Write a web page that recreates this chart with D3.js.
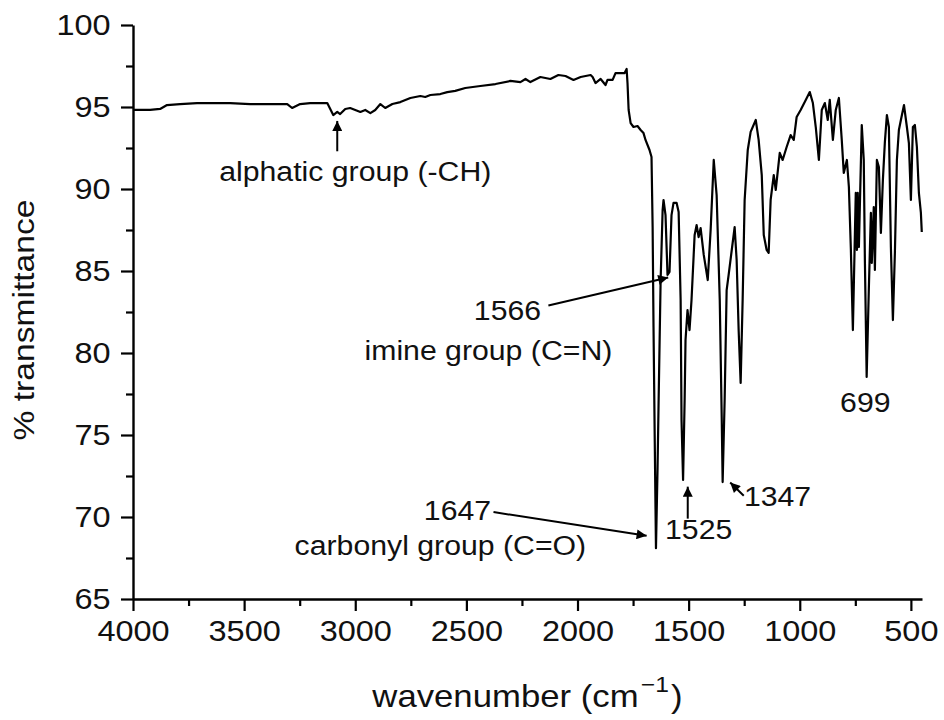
<!DOCTYPE html>
<html>
<head>
<meta charset="utf-8">
<script src="https://cdn.jsdelivr.net/npm/d3@7"></script>
<style>
  html, body { margin: 0; padding: 0; background: #fff; }
  svg { display: block; font-family: "Liberation Sans", Arial, sans-serif; }
</style>
</head>
<body>
<svg id="chart" width="944" height="720"></svg>
<script>
// FT-IR spectrum: wavenumber (cm-1) and % transmittance
const wavenumber = [
  4000, 3923, 3878, 3847, 3788, 3712, 3563, 3473, 3306, 3284, 3248, 3203, 3158, 3126,
  3099, 3081, 3068, 3045, 3023, 3000, 2977, 2955, 2932, 2910, 2887, 2865, 2833, 2797,
  2752, 2707, 2685, 2662, 2617, 2586, 2550, 2505, 2437, 2369, 2302, 2257, 2234, 2212,
  2167, 2122, 2086, 2054, 2018, 1986, 1941, 1932, 1919, 1896, 1874, 1865, 1842, 1829,
  1788, 1779, 1775, 1770, 1761, 1748, 1730, 1716, 1703, 1694, 1676, 1667, 1662, 1658,
  1653, 1647, 1640, 1635, 1626, 1617, 1613, 1604, 1595, 1586, 1577, 1568, 1554, 1545,
  1536, 1532, 1525, 1518, 1514, 1505, 1496, 1487, 1473, 1464, 1455, 1446, 1432, 1414,
  1401, 1387, 1374, 1360, 1351, 1347, 1338, 1329, 1320, 1306, 1293, 1284, 1275, 1266,
  1257, 1248, 1234, 1221, 1198, 1185, 1171, 1162, 1149, 1140, 1131, 1117, 1108, 1090,
  1077, 1059, 1041, 1027, 1014, 996, 973, 955, 941, 928, 914, 901, 887, 874,
  865, 851, 838, 824, 811, 802, 788, 779, 770, 761, 748, 743, 739, 734,
  721, 712, 707, 699, 689, 680, 676, 667, 662, 653, 644, 635, 626, 617,
  608, 599, 590, 581, 572, 563, 554, 545, 531, 518, 509, 500, 491, 482,
  473, 464, 455, 451
];
const transmittance = [
  94.82, 94.82, 94.88, 95.12, 95.18, 95.24, 95.24, 95.18, 95.18, 94.94, 95.18, 95.24, 95.24, 95.24,
  94.51, 94.70, 94.57, 94.88, 94.94, 94.82, 94.70, 94.82, 94.63, 94.82, 95.18, 94.94, 95.18, 95.30,
  95.55, 95.67, 95.61, 95.73, 95.79, 95.91, 95.98, 96.16, 96.28, 96.40, 96.59, 96.52, 96.71, 96.52,
  96.83, 96.71, 96.95, 96.89, 96.65, 96.83, 96.95, 96.83, 96.46, 96.71, 96.34, 96.65, 96.65, 97.07,
  97.07, 97.32, 96.46, 94.82, 94.02, 93.78, 93.84, 93.60, 93.41, 92.99, 92.38, 91.95, 87.68, 81.59,
  75.30, 68.10, 72.87, 77.13, 84.45, 88.72, 89.33, 88.41, 84.76, 84.94, 88.41, 89.15, 89.15, 88.60,
  83.23, 75.91, 72.26, 77.13, 80.79, 82.62, 81.40, 83.23, 87.20, 87.80, 87.07, 87.62, 85.98, 84.45,
  87.50, 91.77, 89.63, 83.23, 75.91, 72.13, 77.13, 83.84, 84.76, 86.28, 87.68, 85.67, 81.40, 78.17,
  83.23, 89.33, 92.38, 93.48, 94.21, 92.99, 90.85, 87.20, 86.28, 86.10, 89.33, 90.85, 89.94, 92.20,
  91.77, 92.56, 93.29, 92.99, 94.39, 94.82, 95.43, 95.91, 95.24, 93.78, 91.77, 94.82, 95.24, 94.21,
  95.43, 92.99, 94.82, 95.55, 92.99, 90.98, 91.77, 90.12, 86.28, 81.40, 89.76, 86.28, 89.76, 86.46,
  93.90, 91.77, 85.67, 78.54, 84.02, 88.54, 85.49, 88.90, 85.06, 91.77, 91.34, 87.32, 90.55, 92.87,
  94.51, 93.78, 86.46, 82.01, 86.10, 91.77, 93.60, 94.21, 95.12, 93.78, 92.80, 89.33, 93.78, 93.90,
  92.56, 89.76, 88.54, 87.38
];

const xTicks = [4000, 3500, 3000, 2500, 2000, 1500, 1000, 500];
const xMinorTicks = [3750, 3250, 2750, 2250, 1750, 1250, 750];
const yTicks = [65, 70, 75, 80, 85, 90, 95, 100];
const yMinorTicks = [67.5, 72.5, 77.5, 82.5, 87.5, 92.5, 97.5];

// band annotations: peak label, assignment line
const bandLabels = ["1647", "1525", "1347", "1566", "699"];
const groupLabels = ["alphatic group (-CH)", "imine group (C=N)", "carbonyl group (C=O)"];

const svg = d3.select("#chart");
const stretch = 1.12; // slightly wide lettering

const x = d3.scaleLinear().domain([4000, 450]).range([133, 922]);
const y = d3.scaleLinear().domain([65, 100]).range([599, 25]);

// arrowhead marker
svg.append("defs").append("marker")
  .attr("id", "head")
  .attr("viewBox", "0 0 10 10")
  .attr("refX", 10).attr("refY", 5)
  .attr("markerWidth", 6.5).attr("markerHeight", 5)
  .attr("markerUnits", "strokeWidth")
  .attr("orient", "auto")
  .append("path").attr("d", "M0,0 L10,5 L0,10 Z").attr("fill", "#000");

// axes
const xAxis = svg.append("g").attr("transform", `translate(0,${y(65)})`)
  .call(d3.axisBottom(x).tickValues(xTicks).tickSize(12).tickPadding(9).tickSizeOuter(0).tickFormat(d3.format("d")));
svg.append("g").attr("transform", `translate(0,${y(65)})`)
  .call(d3.axisBottom(x).tickValues(xMinorTicks).tickSize(7).tickSizeOuter(0).tickFormat(""))
  .select(".domain").remove();

const yAxis = svg.append("g").attr("transform", `translate(${x(4000)},0)`)
  .call(d3.axisLeft(y).tickValues(yTicks).tickSize(12).tickPadding(8).tickSizeOuter(0).tickFormat(d3.format("d")));
svg.append("g").attr("transform", `translate(${x(4000)},0)`)
  .call(d3.axisLeft(y).tickValues(yMinorTicks).tickSize(7).tickSizeOuter(0).tickFormat(""))
  .select(".domain").remove();

svg.selectAll(".domain").attr("stroke", "#000").attr("stroke-width", 2.4);
svg.selectAll(".tick line").attr("stroke", "#000").attr("stroke-width", 2.2);
[xAxis, yAxis].forEach(a => a.selectAll(".tick text")
  .attr("font-size", 29).attr("fill", "#111")
  .attr("font-family", "Liberation Sans, Arial, sans-serif")
  .attr("transform", `scale(${stretch},1)`));

// spectrum trace
const pts = wavenumber.map((w, i) => [w, transmittance[i]]);
svg.append("path")
  .datum(pts)
  .attr("fill", "none")
  .attr("stroke", "#000")
  .attr("stroke-width", 2.2)
  .attr("stroke-linejoin", "round")
  .attr("d", d3.line().x(d => x(d[0])).y(d => y(d[1])));

// text helper
function label(str, w, t, size, anchor = "middle") {
  return svg.append("text")
    .attr("transform", `translate(${x(w)},${y(t)}) scale(${stretch},1)`)
    .attr("text-anchor", anchor)
    .attr("font-size", size)
    .attr("fill", "#111")
    .text(str);
}
function arrow(w1, t1, w2, t2) {
  svg.append("line")
    .attr("x1", x(w1)).attr("y1", y(t1))
    .attr("x2", x(w2)).attr("y2", y(t2))
    .attr("stroke", "#000").attr("stroke-width", 2)
    .attr("marker-end", "url(#head)");
}

// aliphatic C-H
label(groupLabels[0], 3000, 90.5, 27);
arrow(3081, 92.3, 3081, 94.15);

// imine
label(bandLabels[3], 2315, 82.0, 27);
label(groupLabels[1], 2401, 79.6, 27);
arrow(2131, 82.9, 1592, 84.6);

// carbonyl
label(bandLabels[0], 2540, 69.8, 27);
label(groupLabels[2], 2617, 67.7, 27);
arrow(2378, 70.3, 1689, 68.85);

// 1525
label(bandLabels[1], 1455, 68.65, 27);
arrow(1504, 69.9, 1504, 71.85);

// 1347
label(bandLabels[2], 1100, 70.65, 27);
arrow(1252, 71.3, 1313, 72.1);

// 699
label(bandLabels[4], 705, 76.4, 27);

// axis titles
const xt = svg.append("text")
  .attr("transform", `translate(${(x(4000) + x(450)) / 2},707) scale(${stretch},1)`)
  .attr("text-anchor", "middle")
  .attr("font-size", 31)
  .attr("fill", "#111");
xt.append("tspan").text("wavenumber (cm");
xt.append("tspan").attr("font-size", 22).attr("dy", -15).attr("dx", 2).text("\u22121");
xt.append("tspan").attr("dy", 15).attr("dx", 2).text(")");

svg.append("text")
  .attr("transform", `translate(34,${(y(65) + y(100)) / 2 + 8}) rotate(-90) scale(${stretch},1)`)
  .attr("text-anchor", "middle")
  .attr("font-size", 30)
  .attr("fill", "#111")
  .text("% transmittance");
</script>
</body>
</html>
